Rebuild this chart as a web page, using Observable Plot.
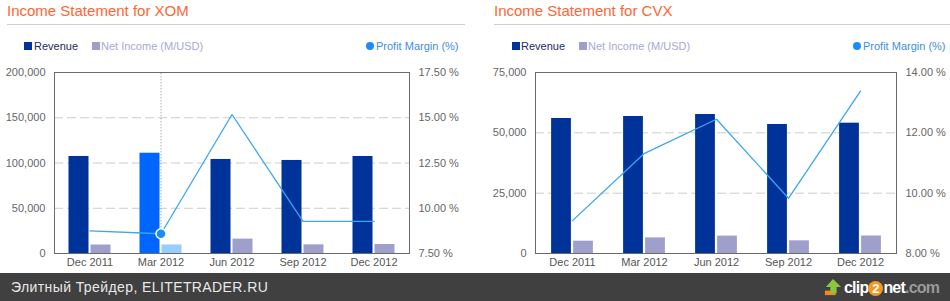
<!DOCTYPE html>
<html><head><meta charset="utf-8">
<script src="https://cdn.jsdelivr.net/npm/d3@7"></script>
<script src="https://cdn.jsdelivr.net/npm/@observablehq/plot@0.6"></script>
<style>
body{margin:0;background:#fff;font-family:Arial,"Liberation Sans",sans-serif;}
#root{position:relative;width:950px;height:301px;overflow:hidden;background:#fff;}
.title{position:absolute;top:2px;font-size:15px;color:#ff6633;white-space:nowrap;}
.rule{position:absolute;top:24px;height:1px;background:#cfcfcf;}
.leg{position:absolute;top:40px;font-size:11px;line-height:12px;white-space:nowrap;}
.sq{position:absolute;top:42px;width:8px;height:8px;}
.dotl{position:absolute;top:42px;width:8px;height:8px;border-radius:50%;}
.chart{position:absolute;top:60px;}
#footer{position:absolute;left:0;top:273px;width:950px;height:28px;background:#404040;}
#ft{position:absolute;left:11px;top:6px;font-size:14px;color:#e8e8e8;letter-spacing:0.4px;white-space:nowrap;}
#logo{position:absolute;left:824px;top:4px;height:22px;white-space:nowrap;font-weight:bold;font-size:16px;color:#fff;letter-spacing:-0.8px;}
</style></head>
<body><div id="root">
<div class="title" style="left:7px">Income Statement for XOM</div>
<div class="rule" style="left:7px;width:458px"></div>
<div class="title" style="left:494px">Income Statement for CVX</div>
<div class="rule" style="left:494px;width:456px"></div>

<div class="sq" style="left:24px;background:#003399"></div>
<div class="leg" style="left:34px;color:#1c2a66">Revenue</div>
<div class="sq" style="left:92px;background:#9f9fcc"></div>
<div class="leg" style="left:101px;color:#a8a8d6">Net Income (M/USD)</div>
<div class="dotl" style="left:366px;background:#1a8cff"></div>
<div class="leg" style="left:376px;color:#3d8fe0">Profit Margin (%)</div>

<div class="sq" style="left:512px;background:#003399"></div>
<div class="leg" style="left:521px;color:#1c2a66">Revenue</div>
<div class="sq" style="left:579px;background:#9f9fcc"></div>
<div class="leg" style="left:588px;color:#a8a8d6">Net Income (M/USD)</div>
<div class="dotl" style="left:853px;background:#1a8cff"></div>
<div class="leg" style="left:863px;color:#3d8fe0">Profit Margin (%)</div>

<div id="c1" class="chart" style="left:0px"></div>
<div id="c2" class="chart" style="left:475px"></div>

<div id="footer">
  <div id="ft">Элитный Трейдер, ELITETRADER.RU</div>
  <div id="logo">
    <svg width="18" height="20" style="vertical-align:-4px;margin-right:2px" viewBox="0 0 20 22">
      <rect x="1" y="15" width="12" height="5" fill="#f08a1c"/>
      <polygon points="10,2 19,11 14,11 14,18 7,18 7,11 2,11" fill="#8cc63f"/>
    </svg><span>clip</span><span style="display:inline-block;width:15px;height:15px;border-radius:50%;background:#f39a1e;color:#fff;text-align:center;line-height:15px;font-size:13px;letter-spacing:0;">2</span><span>net</span><span style="color:#9a9a9a">.com</span>
  </div>
</div>
</div>
<script>
const quarters = ["Dec 2011", "Mar 2012", "Jun 2012", "Sep 2012", "Dec 2012"];

const xomRevenue = [107200, 110800, 103900, 102800, 107200];
const xomNetIncome = [9400, 9450, 15900, 9570, 9950];
const xomMargin = [8.75, 8.59, 15.18, 9.27, 9.27];
const xomRevTicks = [0, 50000, 100000, 150000, 200000];
const xomPctTicks = [7.5, 10, 12.5, 15, 17.5];

const cvxRevenue = [55940, 56770, 57600, 53450, 54000];
const cvxNetIncome = [5100, 6470, 7210, 5250, 7250];
const cvxMargin = [9.09, 11.32, 12.45, 9.83, 13.38];
const cvxRevTicks = [0, 25000, 50000, 75000];
const cvxPctTicks = [8, 10, 12, 14];

function chart({revenue, net, margin, revTicks, pctTicks, width, mL, mR, hover}) {
  const H = 213, mT = 12, mB = 20;
  const yMax = revTicks[revTicks.length - 1];
  const pMin = pctTicks[0], pMax = pctTicks[pctTicks.length - 1];
  const toY = p => (p - pMin) / (pMax - pMin) * yMax;
  const fromY = v => pMin + v / yMax * (pMax - pMin);
  const rows = quarters.map((q, i) => ({q, i, rev: revenue[i], net: net[i], m: toY(margin[i])}));
  const bw = (width - mL - mR) / quarters.length;
  const normal = rows.filter(d => d.i !== hover);
  const hov = rows.filter(d => d.i === hover);
  const marks = [
    Plot.ruleY(revTicks.slice(1, -1), {stroke: "#cccccc", strokeDasharray: "9,4"}),
    Plot.barY(normal, {x: "q", y: "rev", fill: "#003399", insetLeft: bw/2 - 21, insetRight: bw/2 + 1}),
    Plot.barY(normal, {x: "q", y: "net", fill: "#9f9fcc", insetLeft: bw/2 + 1, insetRight: bw/2 - 21}),
    Plot.barY(hov, {x: "q", y: "rev", fill: "#0066ff", insetLeft: bw/2 - 21, insetRight: bw/2 + 1}),
    Plot.barY(hov, {x: "q", y: "net", fill: "#99ccff", insetLeft: bw/2 + 1, insetRight: bw/2 - 21}),
    Plot.ruleX(hov, {x: "q", y1: "m", y2: yMax, stroke: "#888", strokeDasharray: "1,2"}),
    Plot.line(rows, {x: "q", y: "m", stroke: "#3aa6f2", strokeWidth: 1.3}),
    Plot.dot(hov, {x: "q", y: "m", r: 5, fill: "#1a8cff", stroke: "#fff", strokeWidth: 1.5}),
    Plot.frame({stroke: "#6a6a6a"}),
    Plot.axisX({tickSize: 0, tickPadding: 5, fill: "#555", label: null}),
    Plot.axisY(revTicks, {anchor: "left", tickSize: 0, tickPadding: 9, fill: "#666", label: null, tickFormat: d3.format(",")}),
    Plot.axisY(pctTicks.map(toY), {anchor: "right", tickSize: 0, tickPadding: 9, fill: "#666", label: null, tickFormat: v => fromY(v).toFixed(2) + " %"})
  ];
  return Plot.plot({
    width, height: H, marginLeft: mL, marginRight: mR, marginTop: mT, marginBottom: mB,
    style: {fontFamily: "Arial, 'Liberation Sans', sans-serif", fontSize: "11px", background: "transparent", overflow: "visible"},
    x: {type: "band", domain: quarters, padding: 0, label: null},
    y: {domain: [0, yMax], label: null},
    marks
  });
}

document.getElementById("c1").append(chart({revenue: xomRevenue, net: xomNetIncome, margin: xomMargin,
  revTicks: xomRevTicks, pctTicks: xomPctTicks, width: 475, mL: 54, mR: 66, hover: 1}));
document.getElementById("c2").append(chart({revenue: cvxRevenue, net: cvxNetIncome, margin: cvxMargin,
  revTicks: cvxRevTicks, pctTicks: cvxPctTicks, width: 475, mL: 60, mR: 54, hover: -1}));
</script>
</body></html>
